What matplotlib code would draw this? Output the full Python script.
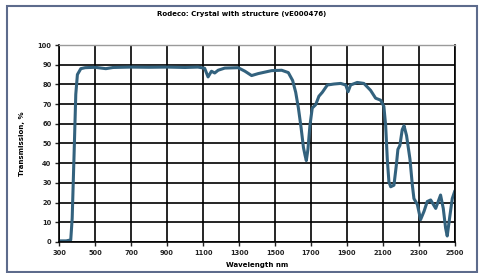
import matplotlib
matplotlib.use("Agg")
import matplotlib.pyplot as plt
from matplotlib.patches import Rectangle

# Transmission curve
wavelength = [300, 340, 365, 373, 384, 393, 402, 421, 445, 500, 560, 600, 700,
              800, 900, 1000, 1072, 1109, 1128, 1147, 1165, 1184, 1221, 1295,
              1333, 1370, 1407, 1481, 1537, 1574, 1598, 1615, 1630, 1645, 1658,
              1667, 1674, 1683, 1694, 1707, 1726, 1744, 1763, 1791, 1828, 1865,
              1893, 1906, 1920, 1957, 1994, 2031, 2059, 2087, 2105, 2115, 2124,
              2133, 2143, 2161, 2174, 2183, 2194, 2207, 2217, 2231, 2250, 2263,
              2272, 2291, 2309, 2328, 2346, 2365, 2393, 2420, 2435, 2448, 2457,
              2470, 2485, 2498]
transmission = [0.5, 0.5, 1, 12, 46, 75, 85, 88, 88.5, 88.7, 88, 88.6, 88.8,
                88.7, 88.8, 88.6, 88.8, 88.2, 83.8, 86.7, 85.8, 87.2, 88.3, 88.5,
                86.7, 84.5, 85.5, 87, 87.2, 86, 82, 76, 68, 58, 48,
                44, 41.3, 47, 59, 68, 69.7, 74, 76, 79.7, 80.2, 80.5,
                79.7, 76.3, 79.7, 81, 80.5, 77, 73, 72, 68.8, 59, 42,
                30.5, 28, 28.8, 38.8, 47, 49, 57, 59, 54, 42, 29,
                22, 19, 11.3, 15.5, 20.5, 21.3, 17, 23.8, 17, 7, 3,
                12, 22, 25.5]

x_ticks = list(range(300, 2501, 200))
y_ticks = list(range(0, 101, 10))

fig = plt.figure(figsize=(4.84, 2.73), dpi=100)
fig.patch.set_facecolor("white")

# outer frame of the scanned page
fig.patches.append(Rectangle((7 / 484, 1 / 273), 470 / 484, 266 / 273,
                             transform=fig.transFigure, fill=False,
                             edgecolor="#5d6b8c", linewidth=1.5))

ax = fig.add_axes([0.122, 0.114, 0.818, 0.721])
ax.plot(wavelength, transmission, color="#33627e", linewidth=2.2)

ax.set_xlim(300, 2500)
ax.set_ylim(0, 100)
ax.set_xticks(x_ticks)
ax.set_yticks(y_ticks)
ax.grid(True, color="black", linewidth=1.2)
ax.set_axisbelow(True)
for side in ["left", "bottom", "right"]:
    ax.spines[side].set_color("black")
    ax.spines[side].set_linewidth(1.2)
ax.spines["top"].set_color("#9a9a9a")
ax.spines["top"].set_linewidth(1.0)
ax.tick_params(direction="out", length=3, width=1, labelsize=4.8, pad=2.5,
               colors="#222222")
for lbl in ax.get_xticklabels() + ax.get_yticklabels():
    lbl.set_fontweight("bold")

ax.set_xlabel("Wavelength nm", fontsize=5, fontweight="bold", labelpad=5)
ax.set_ylabel("Transmission, %", fontsize=5, fontweight="bold", labelpad=9)
fig.text(0.5, 0.95, "Rodeco: Crystal with structure (vE000476)",
         ha="center", va="center", fontsize=5, fontweight="bold")

fig.savefig("out.png", dpi=100)
